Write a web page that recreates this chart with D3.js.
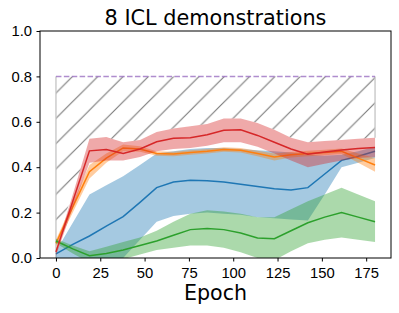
<!DOCTYPE html>
<html>
<head>
<meta charset="utf-8">
<script src="https://cdn.jsdelivr.net/npm/d3@7"></script>
<style>
  body { margin: 0; background: #fff; }
  svg { display: block; font-family: "DejaVu Sans", sans-serif; }
  .axis path, .axis line { stroke: #000; stroke-width: 1; }
  .axis text { font-size: 14.8px; fill: #000; }
</style>
</head>
<body>
<div id="chart"></div>
<script>
const title = "8 ICL demonstrations";
const xLabel = "Epoch";

const epochs = [0, 9.5, 18.9, 28.4, 37.9, 47.4, 56.8, 66.3, 75.8, 85.3, 94.7, 104.2, 113.7, 123.2, 132.6, 142.1, 151.6, 161.1, 170.5, 180];
const xTicks = [0, 25, 50, 75, 100, 125, 150, 175];
const yTicks = [0, 0.2, 0.4, 0.6, 0.8, 1.0];
const targetLevel = 0.8;

// blue
const blueMean = [0.018, 0.06, 0.097, 0.14, 0.182, 0.245, 0.31, 0.335, 0.342, 0.34, 0.335, 0.325, 0.315, 0.305, 0.30, 0.31, 0.37, 0.43, 0.448, 0.47];
const blueLo = [0.0, -0.03, -0.06, -0.05, 0.0, 0.08, 0.16, 0.185, 0.195, 0.2, 0.195, 0.19, 0.18, 0.175, 0.17, 0.165, 0.28, 0.40, 0.42, 0.44];
const blueHi = [0.03, 0.155, 0.28, 0.32, 0.36, 0.41, 0.46, 0.47, 0.48, 0.485, 0.485, 0.48, 0.475, 0.47, 0.465, 0.455, 0.45, 0.455, 0.47, 0.49];
// orange
const orangeMean = [0.065, 0.225, 0.38, 0.44, 0.485, 0.48, 0.46, 0.458, 0.465, 0.47, 0.478, 0.475, 0.46, 0.445, 0.455, 0.46, 0.465, 0.47, 0.44, 0.41];
const orangeLo = [0.05, 0.2, 0.35, 0.42, 0.47, 0.468, 0.45, 0.448, 0.455, 0.46, 0.468, 0.465, 0.448, 0.43, 0.443, 0.448, 0.453, 0.458, 0.42, 0.38];
const orangeHi = [0.08, 0.245, 0.41, 0.46, 0.5, 0.492, 0.47, 0.468, 0.475, 0.48, 0.488, 0.485, 0.472, 0.46, 0.467, 0.472, 0.477, 0.482, 0.46, 0.44];
// green
const greenMean = [0.075, 0.04, 0.01, 0.02, 0.035, 0.055, 0.075, 0.10, 0.125, 0.13, 0.125, 0.11, 0.088, 0.085, 0.12, 0.155, 0.18, 0.20, 0.18, 0.16];
const greenLo = [0.065, 0.02, -0.02, -0.015, -0.005, 0.015, 0.035, 0.045, 0.055, 0.055, 0.045, 0.025, 0.0, -0.01, 0.03, 0.065, 0.08, 0.09, 0.08, 0.07];
const greenHi = [0.085, 0.055, 0.03, 0.05, 0.07, 0.09, 0.12, 0.16, 0.195, 0.21, 0.205, 0.195, 0.18, 0.18, 0.215, 0.25, 0.28, 0.31, 0.28, 0.25];
// red
const redMean = [0.027, 0.25, 0.472, 0.478, 0.46, 0.48, 0.512, 0.527, 0.53, 0.543, 0.563, 0.565, 0.54, 0.51, 0.48, 0.457, 0.467, 0.476, 0.482, 0.487];
const redLo = [0.01, 0.22, 0.42, 0.43, 0.43, 0.445, 0.47, 0.48, 0.485, 0.495, 0.51, 0.51, 0.49, 0.46, 0.43, 0.40, 0.415, 0.43, 0.44, 0.445];
const redHi = [0.04, 0.28, 0.525, 0.533, 0.51, 0.52, 0.555, 0.57, 0.58, 0.59, 0.615, 0.615, 0.595, 0.565, 0.53, 0.51, 0.515, 0.52, 0.525, 0.53];

const series = [
  { color: "#1f77b4", mean: blueMean, lo: blueLo, hi: blueHi },
  { color: "#ff7f0e", mean: orangeMean, lo: orangeLo, hi: orangeHi },
  { color: "#2ca02c", mean: greenMean, lo: greenLo, hi: greenHi },
  { color: "#d62728", mean: redMean, lo: redLo, hi: redHi }
];

const W = 399, H = 313;
const margin = { top: 31, right: 8, bottom: 55, left: 40 };

const svg = d3.select("#chart").append("svg")
  .attr("width", W).attr("height", H);

const x = d3.scaleLinear().domain([-9, 189]).range([margin.left, W - margin.right]);
const y = d3.scaleLinear().domain([0, 1]).range([H - margin.bottom, margin.top]);

const defs = svg.append("defs");
defs.append("clipPath").attr("id", "plotclip")
  .append("rect")
  .attr("x", margin.left).attr("y", margin.top)
  .attr("width", W - margin.left - margin.right)
  .attr("height", H - margin.top - margin.bottom);

// diagonal hatch, like matplotlib '/'
const hs = 25.3;
defs.append("pattern")
  .attr("id", "hatch")
  .attr("patternUnits", "userSpaceOnUse")
  .attr("width", hs).attr("height", hs)
  .attr("patternTransform", "translate(22.5,0)")
  .append("path")
  .attr("d", `M0,${hs} L${hs},0 M${-hs / 4},${hs / 4} L${hs / 4},${-hs / 4} M${hs * 3 / 4},${hs * 5 / 4} L${hs * 5 / 4},${hs * 3 / 4}`)
  .attr("stroke", "#777")
  .attr("stroke-width", 1.1);

const plot = svg.append("g").attr("clip-path", "url(#plotclip)");

// hatched gap between the best band and the target level
const hatchLower = epochs.map((e, i) => d3.max(series, s => s.hi[i]));
const hatchArea = d3.area()
  .x((d, i) => x(epochs[i]))
  .y0(d => y(d))
  .y1(() => y(targetLevel));
plot.append("path")
  .datum(hatchLower)
  .attr("d", hatchArea)
  .attr("fill", "url(#hatch)")
  .attr("stroke", "none");

// patch edges
plot.append("line")
  .attr("x1", x(epochs[0])).attr("x2", x(epochs[0]))
  .attr("y1", y(0)).attr("y2", y(targetLevel))
  .attr("stroke", "#c4c4c4").attr("stroke-width", 1.3);
plot.append("line")
  .attr("x1", x(epochs[epochs.length - 1])).attr("x2", x(epochs[epochs.length - 1]))
  .attr("y1", y(hatchLower[hatchLower.length - 1])).attr("y2", y(targetLevel))
  .attr("stroke", "#c4c4c4").attr("stroke-width", 1.3);

const band = d3.area()
  .x((d, i) => x(epochs[i]))
  .y0(d => y(d[0]))
  .y1(d => y(d[1]));
const line = d3.line()
  .x((d, i) => x(epochs[i]))
  .y(d => y(d));

series.forEach(s => {
  plot.append("path")
    .datum(s.lo.map((v, i) => [v, s.hi[i]]))
    .attr("d", band)
    .attr("fill", s.color)
    .attr("fill-opacity", 0.4)
    .attr("stroke", "none");
  plot.append("path")
    .datum(s.mean)
    .attr("d", line)
    .attr("fill", "none")
    .attr("stroke", s.color)
    .attr("stroke-width", 1.5);
});

// target dashed line
plot.append("line")
  .attr("x1", x(epochs[0])).attr("x2", x(epochs[epochs.length - 1]))
  .attr("y1", y(targetLevel)).attr("y2", y(targetLevel))
  .attr("stroke", "#9467bd")
  .attr("stroke-opacity", 0.75)
  .attr("stroke-width", 1.5)
  .attr("stroke-dasharray", "5.5,2.4");

// axes
const xAxis = d3.axisBottom(x).tickValues(xTicks).tickSize(3.5).tickPadding(5.5).tickFormat(d3.format("d"));
const yAxis = d3.axisLeft(y).tickValues(yTicks).tickSize(3.5).tickPadding(4.5).tickFormat(d3.format(".1f"));

svg.append("g")
  .attr("class", "axis")
  .attr("transform", `translate(0,${H - margin.bottom})`)
  .call(xAxis)
  .call(g => g.select(".domain").remove());
svg.append("g")
  .attr("class", "axis")
  .attr("transform", `translate(${margin.left},0)`)
  .call(yAxis)
  .call(g => g.select(".domain").remove());

// frame
svg.append("rect")
  .attr("x", margin.left).attr("y", margin.top)
  .attr("width", W - margin.left - margin.right)
  .attr("height", H - margin.top - margin.bottom)
  .attr("fill", "none")
  .attr("stroke", "#000")
  .attr("stroke-width", 1);

svg.append("text")
  .attr("x", (margin.left + W - margin.right) / 2)
  .attr("y", 25)
  .attr("text-anchor", "middle")
  .style("font-size", "20.8px")
  .text(title);

svg.append("text")
  .attr("x", (margin.left + W - margin.right) / 2)
  .attr("y", 300)
  .attr("text-anchor", "middle")
  .style("font-size", "20.6px")
  .text(xLabel);
</script>
</body>
</html>
